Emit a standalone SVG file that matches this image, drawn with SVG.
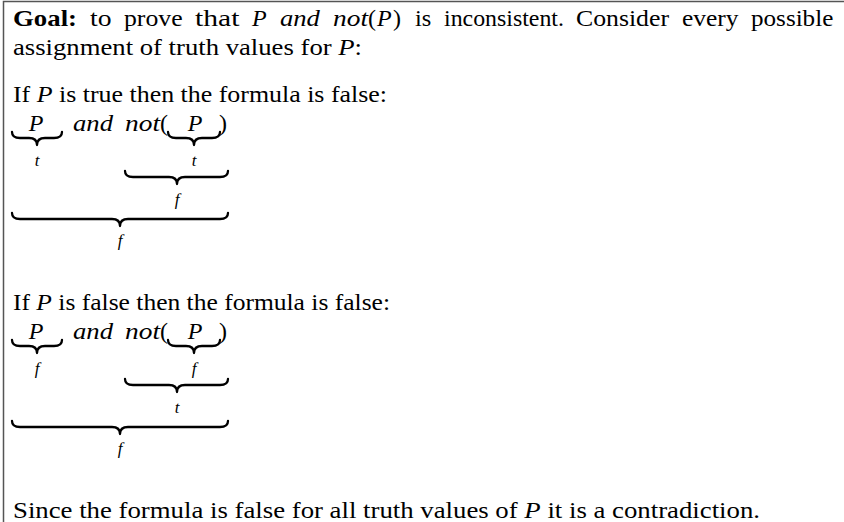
<svg xmlns="http://www.w3.org/2000/svg" width="844" height="522" viewBox="0 0 844 522">
<style>
text{font-family:"Liberation Serif","Times New Roman",serif;font-size:24px;fill:#000}
.b{font-weight:bold}
.i{font-style:italic}
.s{font-size:17px;font-style:italic}
.brace{fill:none;stroke:#000;stroke-width:2.3;stroke-linejoin:round;stroke-linecap:round}
.frame{fill:none;stroke:#555;stroke-width:1.5}
</style>
<g id="frame"><path class="frame" d="M3.5,522 V1.5 H844"/></g>
<g id="intro">
<text y="26" lengthAdjust="spacingAndGlyphs"><tspan x="13" class="b" textLength="64" lengthAdjust="spacingAndGlyphs">Goal:</tspan><tspan x="90" textLength="21.5" lengthAdjust="spacingAndGlyphs">to</tspan><tspan x="124" textLength="58.6" lengthAdjust="spacingAndGlyphs">prove</tspan><tspan x="195" textLength="44.4" lengthAdjust="spacingAndGlyphs">that</tspan><tspan x="252" class="i">P</tspan><tspan x="280" class="i" textLength="39.9" lengthAdjust="spacingAndGlyphs">and</tspan><tspan x="333" class="i" textLength="35" lengthAdjust="spacingAndGlyphs">not</tspan><tspan x="368">(</tspan><tspan x="377" class="i">P</tspan><tspan x="393">)</tspan><tspan x="415" textLength="16.3" lengthAdjust="spacingAndGlyphs">is</tspan><tspan x="444" textLength="119.9" lengthAdjust="spacingAndGlyphs">inconsistent.</tspan><tspan x="576" textLength="93" lengthAdjust="spacingAndGlyphs">Consider</tspan><tspan x="682" textLength="56.5" lengthAdjust="spacingAndGlyphs">every</tspan><tspan x="751" textLength="82.3" lengthAdjust="spacingAndGlyphs">possible</tspan></text>
<text x="13" y="55" textLength="349" lengthAdjust="spacingAndGlyphs">assignment of truth values for <tspan class="i">P</tspan>:</text>
</g>
<g id="case-true">
<text x="13" y="102" textLength="374" lengthAdjust="spacingAndGlyphs">If <tspan class="i">P</tspan> is true then the formula is false:</text>
<g id="formula-true">
<text x="36" y="131" class="i" text-anchor="middle">P</text>
<text x="73" y="131" class="i" textLength="40" lengthAdjust="spacingAndGlyphs">and</text>
<text x="125" y="131" class="i" textLength="35" lengthAdjust="spacingAndGlyphs">not</text>
<text x="160" y="131">(</text>
<text x="195" y="131" class="i" text-anchor="middle">P</text>
<text x="219" y="131">)</text>
</g>
<g id="braces-true">
<path class="brace" d="M12,132 C12,136 15,138 20,138 L29,138 C34,138 37,140 37,145 C37,140 40,138 45,138 L54,138 C59,138 62,136 62,132"/>
<path class="brace" d="M168,132 C168,136 171,138 176,138 L186,138 C191,138 194,140 194,145 C194,140 197,138 202,138 L212,138 C217,138 220,136 220,132"/>
<path class="brace" d="M125,171 C125,175 128,177 133,177 L169,177 C174,177 177,179 177,184 C177,179 180,177 185,177 L220,177 C225,177 228,175 228,171"/>
<path class="brace" d="M12,213 C12,217 15,219 20,219 L112,219 C117,219 120,221 120,226 C120,221 123,219 128,219 L220,219 C225,219 228,217 228,213"/>
<text x="37" y="166" class="s" text-anchor="middle">t</text>
<text x="194" y="166" class="s" text-anchor="middle">t</text>
<text x="177" y="205" class="s" text-anchor="middle">f</text>
<text x="120" y="246" class="s" text-anchor="middle">f</text>
</g>
</g>
<g id="case-false" transform="translate(0,208)">
<text x="13" y="102" textLength="377" lengthAdjust="spacingAndGlyphs">If <tspan class="i">P</tspan> is false then the formula is false:</text>
<g id="formula-false">
<text x="36" y="131" class="i" text-anchor="middle">P</text>
<text x="73" y="131" class="i" textLength="40" lengthAdjust="spacingAndGlyphs">and</text>
<text x="125" y="131" class="i" textLength="35" lengthAdjust="spacingAndGlyphs">not</text>
<text x="160" y="131">(</text>
<text x="195" y="131" class="i" text-anchor="middle">P</text>
<text x="219" y="131">)</text>
</g>
<g id="braces-false">
<path class="brace" d="M12,132 C12,136 15,138 20,138 L29,138 C34,138 37,140 37,145 C37,140 40,138 45,138 L54,138 C59,138 62,136 62,132"/>
<path class="brace" d="M168,132 C168,136 171,138 176,138 L186,138 C191,138 194,140 194,145 C194,140 197,138 202,138 L212,138 C217,138 220,136 220,132"/>
<path class="brace" d="M125,171 C125,175 128,177 133,177 L169,177 C174,177 177,179 177,184 C177,179 180,177 185,177 L220,177 C225,177 228,175 228,171"/>
<path class="brace" d="M12,213 C12,217 15,219 20,219 L112,219 C117,219 120,221 120,226 C120,221 123,219 128,219 L220,219 C225,219 228,217 228,213"/>
<text x="37" y="166" class="s" text-anchor="middle">f</text>
<text x="194" y="166" class="s" text-anchor="middle">f</text>
<text x="177" y="205" class="s" text-anchor="middle">t</text>
<text x="120" y="246" class="s" text-anchor="middle">f</text>
</g>
</g>
<g id="conclusion">
<text x="13" y="518" textLength="747" lengthAdjust="spacingAndGlyphs">Since the formula is false for all truth values of <tspan class="i">P</tspan> it is a contradiction.</text>
</g>
</svg>
